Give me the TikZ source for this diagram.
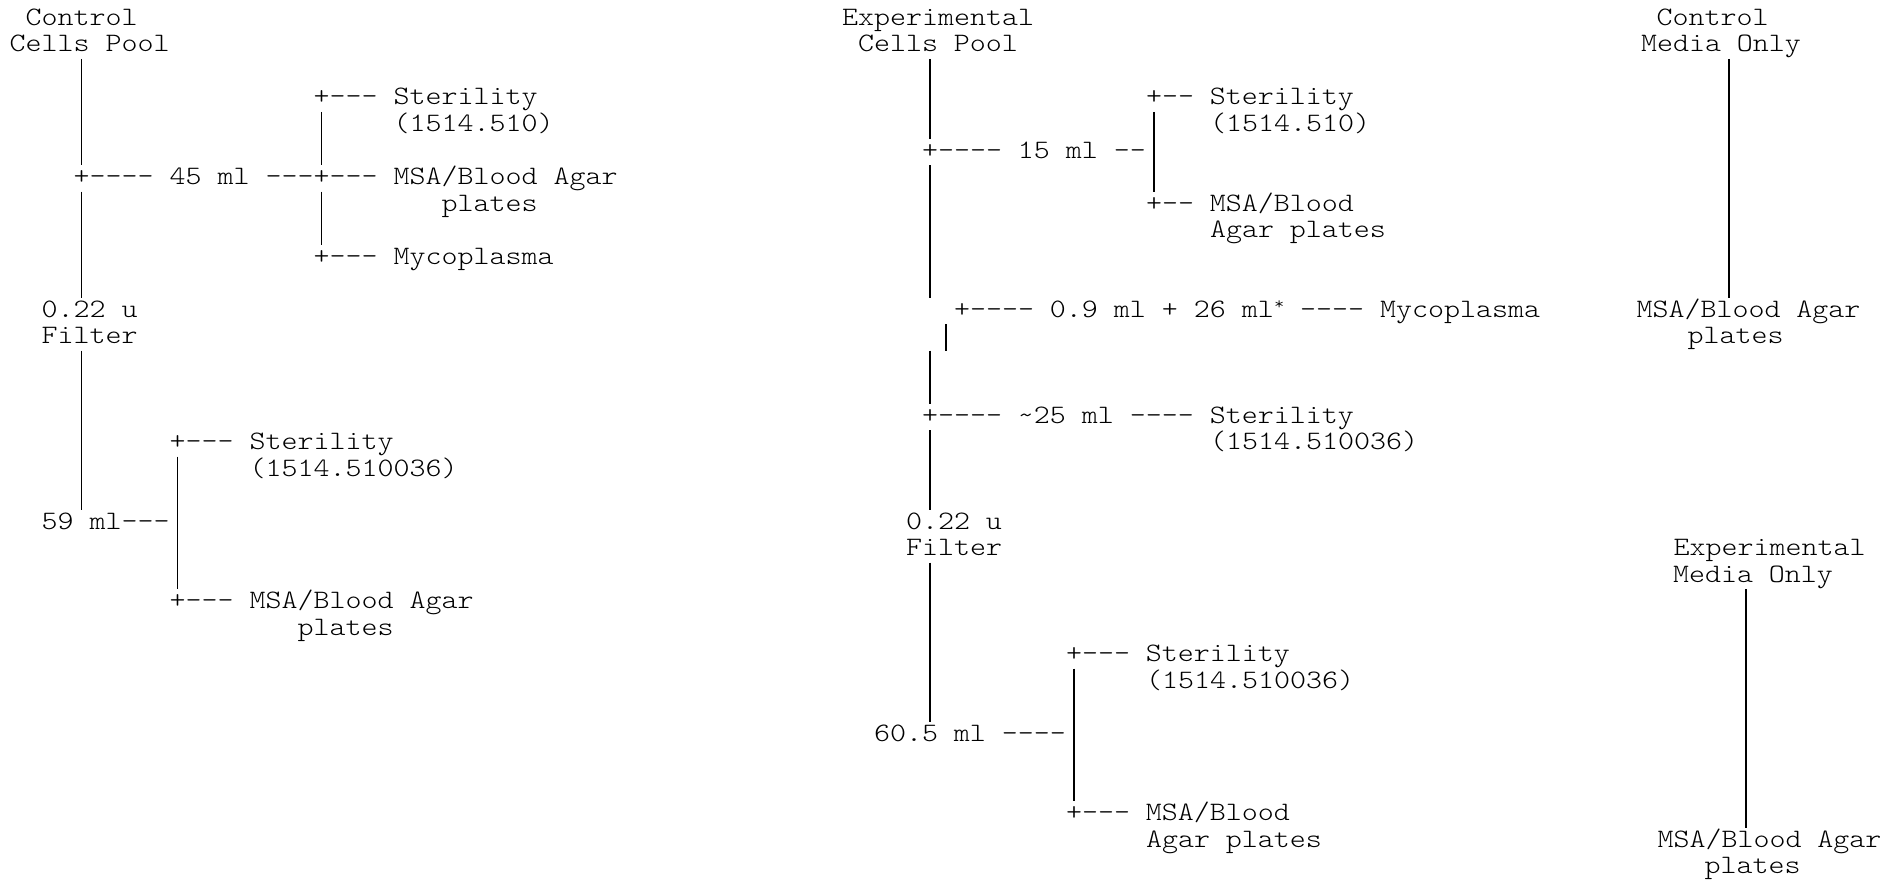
\documentclass[tikz,border=0pt]{standalone}
\usepackage{fontspec}
% thin slab-serif typewriter face, widened to 16px cells
\setmonofont{lmmonolt10-regular.otf}[FakeStretch=1.1457]
% grid: 16px character cells, 26.5px rows, first baseline at 25.5px
\tikzset{
  txt/.style={font=\ttfamily\fontsize{26.6}{26.5}\selectfont, anchor=base west,
              inner sep=0pt, outer sep=0pt, text=black},
  stem/.style={draw=black, line width=1.3pt},
}
% text line: name, left x, row, text
\newcommand\txtrow[4]{\node[txt] (#1) at (#2,{25.5+26.5*#3}) {#4};}
% vertical bar: name, centre x, first row, last row
\newcommand\pipe[4]{%
  \coordinate (#1-a) at (#2,{25.5+26.5*#3-19.5});
  \coordinate (#1-b) at (#2,{25.5+26.5*#4+7});
  \draw[stem] (#1-a) -- (#1-b);}
\newcommand\astsup{\raisebox{8pt}{\fontsize{17}{17}\selectfont *}}
\begin{document}
\begin{tikzpicture}[x=1pt,y=-1pt]
\fill[white] (0,0) rectangle (1902,880);
\useasboundingbox (0,0) rectangle (1902,880);

% ---------- control cells pool ----------
\txtrow{cc1}{25.6}{0}{Control}
\txtrow{cc2}{9.6}{1}{Cells Pool}
\txtrow{cst}{313.6}{3}{+--- Sterility}
\txtrow{cstn}{393.6}{4}{(1514.510)}
\txtrow{c45}{73.6}{6}{+---- 45 ml ---+--- MSA/Blood Agar}
\txtrow{cpl}{441.6}{7}{plates}
\txtrow{cmy}{313.6}{9}{+--- Mycoplasma}
\txtrow{cf1}{41.6}{11}{0.22 u}
\txtrow{cf2}{41.6}{12}{Filter}
\txtrow{cst2}{169.6}{16}{+--- Sterility}
\txtrow{cst2n}{249.6}{17}{(1514.510036)}
\txtrow{c59}{41.6}{19}{59 ml---}
\txtrow{cmsa}{169.6}{22}{+--- MSA/Blood Agar}
\txtrow{cmsa2}{297.6}{23}{plates}

\pipe{cmainA}{81.6}{2}{5}
\pipe{cmainB}{81.6}{7}{10}
\pipe{cmainC}{81.6}{13}{18}
\pipe{csubA}{321.6}{4}{5}
\pipe{csubB}{321.6}{7}{8}
\pipe{csubC}{177.6}{17}{21}

% ---------- experimental cells pool ----------
\txtrow{ec1}{842}{0}{Experimental}
\txtrow{ec2}{858}{1}{Cells Pool}
\txtrow{est}{1146}{3}{+-- Sterility}
\txtrow{estn}{1210}{4}{(1514.510)}
\txtrow{e15}{922}{5}{+---- 15 ml --}
\txtrow{emsa}{1146}{7}{+-- MSA/Blood}
\txtrow{emsa2}{1210}{8}{Agar plates}
\txtrow{emy}{954}{11}{+---- 0.9 ml + 26 ml\astsup{} ---- Mycoplasma}
\txtrow{e25}{922}{15}{+---- \textasciitilde25 ml ---- Sterility}
\txtrow{e25n}{1210}{16}{(1514.510036)}
\txtrow{ef1}{906}{19}{0.22 u}
\txtrow{ef2}{906}{20}{Filter}
\txtrow{est2}{1066}{24}{+--- Sterility}
\txtrow{est2n}{1146}{25}{(1514.510036)}
\txtrow{e60}{874}{27}{60.5 ml ----}
\txtrow{emsb}{1066}{30}{+--- MSA/Blood}
\txtrow{emsb2}{1146}{31}{Agar plates}

\pipe{emainA}{930}{2}{4}
\pipe{emainB}{930}{6}{10}
\pipe{ekink}{946}{12}{12}
\pipe{emainC}{930}{13}{14}
\pipe{emainD}{930}{16}{18}
\pipe{emainE}{930}{21}{26}
\pipe{esubA}{1154}{4}{6}
\pipe{esubB}{1074}{25}{29}

% ---------- media only ----------
\txtrow{mc1}{1656.5}{0}{Control}
\txtrow{mc2}{1641}{1}{Media Only}
\txtrow{mc3}{1636.5}{11}{MSA/Blood Agar}
\txtrow{mc4}{1687.5}{12}{plates}
\pipe{mcstem}{1729}{2}{10}

\txtrow{me1}{1673.5}{20}{Experimental}
\txtrow{me2}{1673}{21}{Media Only}
\txtrow{me3}{1657.5}{31}{MSA/Blood Agar}
\txtrow{me4}{1704.5}{32}{plates}
\pipe{mestem}{1746}{22}{30}
\end{tikzpicture}
\end{document}
